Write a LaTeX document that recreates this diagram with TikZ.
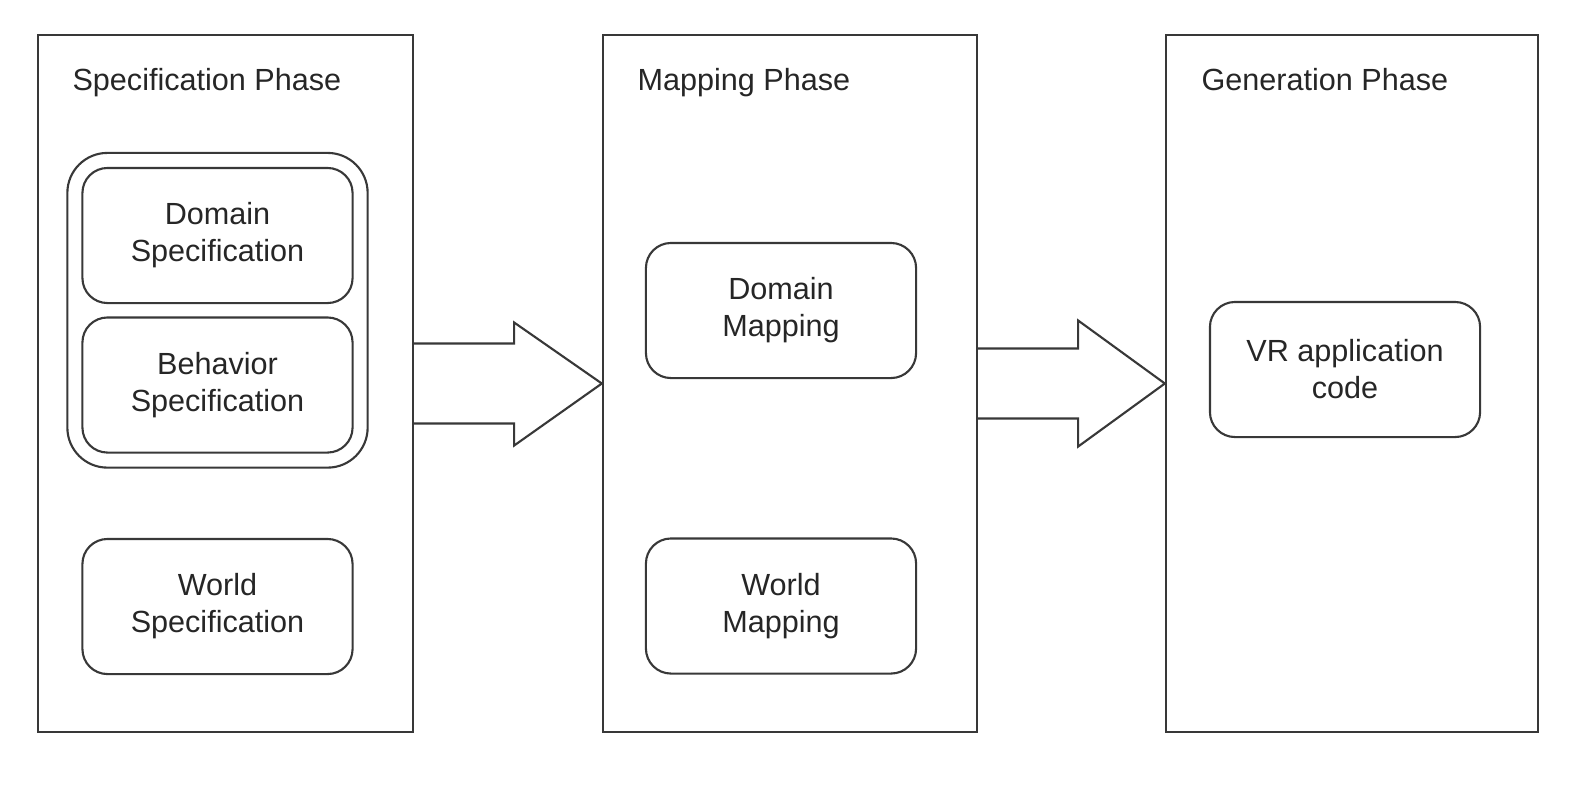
\documentclass[tikz,border=0pt]{standalone}
\usepackage{fontspec}
\setmainfont{Liberation Sans}
\usetikzlibrary{fit,calc}
\definecolor{linegray}{gray}{0.22}
\definecolor{textgray}{gray}{0.15}
\tikzset{
  phase/.style={draw=linegray, line width=0.6pt, rectangle, minimum width=3.74cm, minimum height=6.97cm, inner sep=0pt},
  phasetitle/.style={anchor=base west, text=textgray, inner sep=0pt, font=\fontsize{8.7}{10.5}\selectfont},
  step box/.style={draw=linegray, line width=0.6pt, rounded corners=0.25cm, minimum width=2.7cm, minimum height=1.35cm, align=center, text=textgray, font=\fontsize{8.7}{10.5}\selectfont},
  group box/.style={draw=linegray, line width=0.6pt, rounded corners=0.4cm, inner sep=0.14cm},
  blockarrow/.style={draw=linegray, line width=0.6pt, fill=white, line join=miter}
}
\begin{document}
\begin{tikzpicture}[x=0.01cm, y=-0.01cm]
\useasboundingbox (0,0) rectangle (1580,790);
\node[phase, minimum width=3.75cm] (spec) at (225.5,383.5) {};
\node[phase] (map) at (790,383.5) {};
\node[phase, minimum width=3.72cm] (gen) at (1352,383.5) {};
\node[phasetitle] (spectitle) at ($(spec.north west)+(35,57)$) {Specification Phase};
\node[phasetitle] (maptitle) at ($(map.north west)+(35,57)$) {Mapping Phase};
\node[phasetitle] (gentitle) at ($(gen.north west)+(36,57)$) {Generation Phase};
\node[step box] (domspec) at (217.5,235.5) {Domain\\Specification};
\node[step box] (behspec) at (217.5,385) {Behavior\\Specification};
\node[group box, fit=(domspec)(behspec)] (specgroup) {};
\node[step box] (worldspec) at (217.5,606.5) {World\\Specification};
\node[step box] (dommap) at (781,310.5) {Domain\\Mapping};
\node[step box] (worldmap) at (781,606) {World\\Mapping};
\node[step box] (vrcode) at (1345,369.5) {VR application\\code};
\draw[blockarrow] ($(spec.east)+(0,-40)$) -- ++(100,0) -- ++(0,-21) -- (map.west)
  -- ($(spec.east)+(100,62)$) -- ++(0,-22) -- ($(spec.east)+(0,40)$);
\draw[blockarrow] ($(map.east)+(0,-35)$) -- ++(100,0) -- ++(0,-28) -- (gen.west)
  -- ($(map.east)+(100,63)$) -- ++(0,-28) -- ($(map.east)+(0,35)$);
\end{tikzpicture}
\end{document}
